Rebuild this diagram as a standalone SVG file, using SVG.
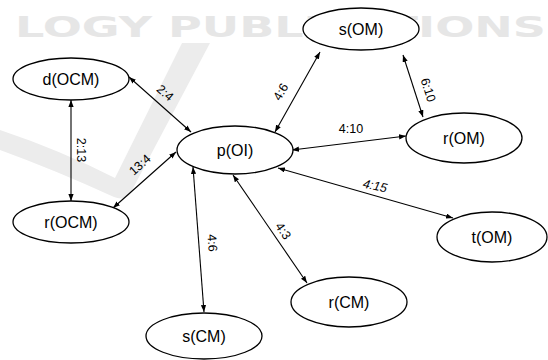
<svg xmlns="http://www.w3.org/2000/svg" width="548" height="360" viewBox="0 0 548 360">
<style>
.node ellipse{fill:#fff;stroke:#000;stroke-width:1.3}
.node text{font-family:"Liberation Sans",Arial,sans-serif;font-size:16px;text-anchor:middle;fill:#000}
.edge line{stroke:#000;stroke-width:1.1;marker-start:url(#ah);marker-end:url(#ah)}
.lbl{font-family:"Liberation Sans",Arial,sans-serif;font-size:12.5px;text-anchor:middle;fill:#000}
.wm{font-family:"DejaVu Sans",sans-serif;font-weight:bold;font-size:28px;fill:#e6e6e6}
</style>
<defs>
<marker id="ah" viewBox="0 0 8 6" refX="8" refY="3" markerWidth="7" markerHeight="5.5" markerUnits="userSpaceOnUse" orient="auto-start-reverse">
<path d="M0,0 L8,3 L0,6 z" fill="#000"/>
</marker>
</defs>
<rect width="548" height="360" fill="#fff"/>
<g id="watermark">
<text class="wm" x="15" y="37" textLength="531" lengthAdjust="spacingAndGlyphs">LOGY PUBLICATIONS</text>
<path d="M0,130 Q60,150 115,178 L182,43 L210,43 L130,194 Q124,201 114,197 Q55,170 0,150 Z" fill="#ececec"/>
</g>
<g id="connectors" class="edge">
<line x1="129" y1="77" x2="191" y2="132"/>
<line x1="71" y1="100" x2="71" y2="201"/>
<line x1="113" y1="208" x2="176" y2="152"/>
<line x1="275" y1="132" x2="320" y2="52"/>
<line x1="403" y1="55" x2="423" y2="117"/>
<line x1="292" y1="150" x2="406" y2="136"/>
<line x1="278" y1="168" x2="453" y2="218"/>
<line x1="193" y1="167" x2="204" y2="312"/>
<line x1="233" y1="175" x2="307" y2="283"/>
</g>
<g id="labels">
<text class="lbl" transform="translate(165,93) rotate(41)" y="4">2:4</text>
<text class="lbl" transform="translate(81,150) rotate(90)" y="4">2:13</text>
<text class="lbl" transform="translate(140,165) rotate(-42)" y="4">13:4</text>
<text class="lbl" transform="translate(281,92) rotate(-60)" y="4">4:6</text>
<text class="lbl" transform="translate(428,90) rotate(72)" y="4">6:10</text>
<text class="lbl" transform="translate(351,129)" y="4">4:10</text>
<text class="lbl" transform="translate(375,186) rotate(12)" y="4" font-style="italic">4:15</text>
<text class="lbl" transform="translate(212,243) rotate(86)" y="4">4:6</text>
<text class="lbl" transform="translate(283,231) rotate(56)" y="4">4:3</text>
</g>
<g id="n-dOCM" class="node"><ellipse cx="71" cy="79" rx="58" ry="21"/><text x="71" y="85">d(OCM)</text></g>
<g id="n-pOI" class="node"><ellipse cx="235" cy="150" rx="58" ry="24"/><text x="235" y="156">p(OI)</text></g>
<g id="n-rOCM" class="node"><ellipse cx="71" cy="222" rx="58" ry="21"/><text x="71" y="228">r(OCM)</text></g>
<g id="n-sOM" class="node"><ellipse cx="361" cy="29" rx="58" ry="21"/><text x="361" y="35">s(OM)</text></g>
<g id="n-rOM" class="node"><ellipse cx="464" cy="138" rx="58" ry="25"/><text x="464" y="144">r(OM)</text></g>
<g id="n-tOM" class="node"><ellipse cx="492" cy="237" rx="55" ry="25"/><text x="492" y="243">t(OM)</text></g>
<g id="n-rCM" class="node"><ellipse cx="349" cy="302" rx="58" ry="25"/><text x="349" y="308">r(CM)</text></g>
<g id="n-sCM" class="node"><ellipse cx="204" cy="336" rx="58" ry="23"/><text x="204" y="342">s(CM)</text></g>
</svg>
